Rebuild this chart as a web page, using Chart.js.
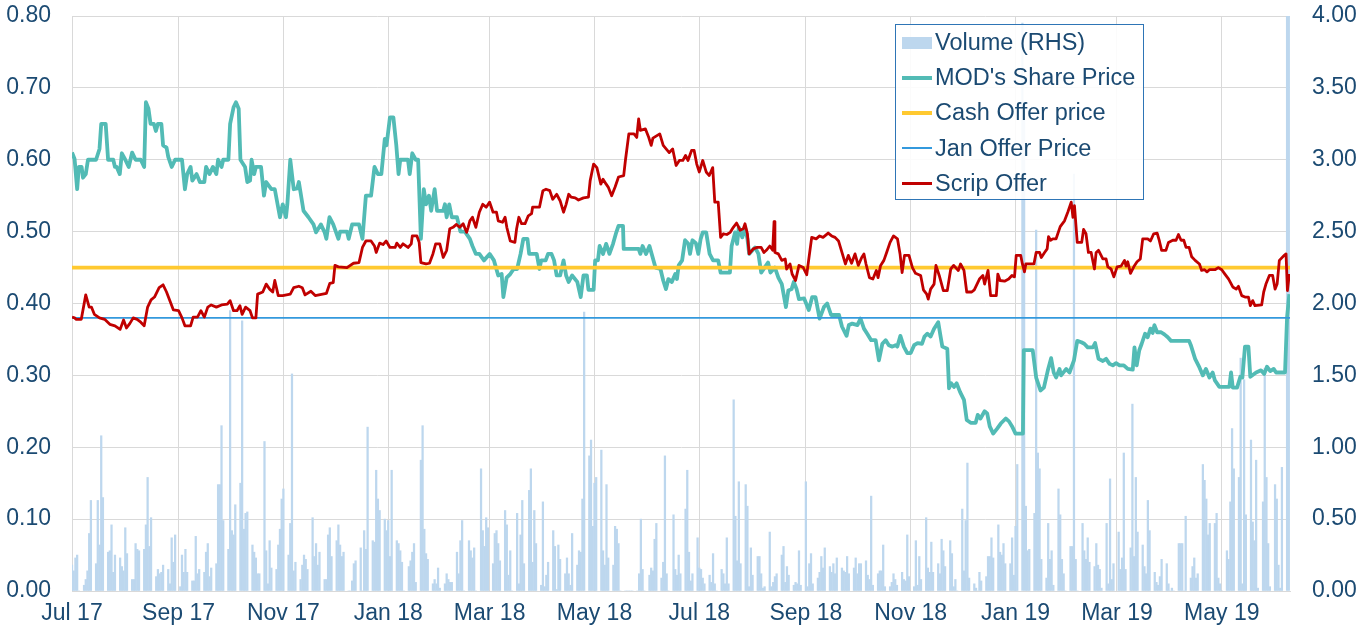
<!DOCTYPE html>
<html>
<head>
<meta charset="utf-8">
<script src="https://cdn.jsdelivr.net/npm/chart.js@4.4.1/dist/chart.umd.min.js"></script>
<style>
    html, body { margin: 0; padding: 0; background: #fff; }
    #wrap { position: relative; width: 1367px; height: 638px; }
    #legend {
        position: absolute; left: 895px; top: 24px; width: 249px; height: 176px;
        box-sizing: border-box; border: 1px solid #2e75b6; background: rgba(255,255,255,0.88);
        font-family: 'Liberation Sans', Arial, sans-serif; font-size: 23.5px; color: #1b4a72;
    }
    .legend-row { height: 35.2px; display: flex; align-items: center; }
    .legend-swatch { width: 30px; margin-left: 6px; margin-right: 3px; }
</style>
</head>
<body>
<div id="wrap">
    <canvas id="chart" width="1367" height="638"></canvas>
    <div id="legend"></div>
</div>
<script>
// x values are days counted from the left edge of the axis (start of Jul 17)
const tickDays = [0, 62, 123, 184, 243, 304, 365, 427, 488, 549, 608, 669];
const tickLabels = ['Jul 17', 'Sep 17', 'Nov 17', 'Jan 18', 'Mar 18', 'May 18', 'Jul 18', 'Sep 18', 'Nov 18', 'Jan 19', 'Mar 19', 'May 19'];
const lastDay = 708.7;

const cashOffer = 0.45;
const janOffer = 0.38;

// MOD's share price [day, price]
const sharePrice = [[0,.61],[1.5,.601],[3,.559],[4,.59],[5.6,.59],[6.4,.575],[8,.58],[9.3,.6],[14,.6],[16,.615],[17,.65],[19.6,.65],[21,.6],[24,.6],[25,.59],[26,.59],[27.8,.58],[29,.609],[31,.6],[33,.59],[35,.61],[37,.6],[40,.6],[42,.59],[43,.68],[44.5,.671],[45.7,.65],[47.6,.65],[48.8,.64],[50,.65],[52,.65],[53,.62],[55,.617],[56,.604],[58,.59],[60,.6],[64,.6],[65.7,.559],[67,.58],[69,.59],[70,.571],[72.5,.58],[74.4,.569],[77,.569],[78,.59],[80,.58],[82,.59],[84,.58],[85,.6],[87,.59],[88,.6],[91,.6],[92,.65],[94,.673],[95.4,.68],[97,.671],[98,.6],[100.7,.59],[102,.569],[103.6,.571],[104.5,.6],[106,.58],[107,.59],[110,.59],[111.7,.55],[113,.569],[116,.559],[118,.559],[121,.52],[122.6,.538],[124.5,.52],[125.3,.538],[127,.6],[129,.559],[131,.56],[132,.569],[134.7,.529],[137.6,.52],[140.5,.51],[142,.499],[144.8,.51],[147,.499],[148,.49],[149.8,.52],[152,.51],[155,.49],[156,.5],[160,.5],[161,.49],[163,.51],[167,.51],[169,.49],[171,.55],[174,.55],[176,.59],[178,.58],[180,.58],[182,.629],[183,.62],[185,.659],[187,.659],[188.7,.62],[190,.58],[191,.6],[195.5,.6],[196.5,.58],[198,.609],[200,.6],[201.4,.6],[203,.49],[204.7,.559],[206,.538],[207.7,.55],[209,.529],[211,.559],[212.4,.529],[216,.529],[217,.538],[218,.52],[219.5,.538],[221,.52],[224,.52],[226,.5],[228.6,.5],[231.5,.49],[233,.48],[235,.469],[237,.469],[239.7,.46],[243,.469],[245.5,.46],[248,.439],[250,.441],[251,.409],[252.9,.436],[255,.441],[257,.448],[259,.448],[261,.469],[262.6,.49],[265,.49],[266,.469],[270.4,.469],[272,.448],[273,.46],[275.6,.46],[277,.469],[279,.469],[280.5,.46],[282,.439],[284,.439],[286,.46],[287.5,.439],[289,.43],[291,.439],[294,.43],[296,.409],[297.6,.439],[299.6,.439],[300.5,.419],[303.5,.419],[304.4,.46],[306,.46],[307,.48],[309,.469],[310.8,.483],[312.7,.469],[314.8,.483],[316.7,.499],[318,.508],[320.6,.508],[321,.476],[329.7,.476],[330.7,.469],[332,.48],[334,.469],[336,.48],[337.3,.469],[339.5,.45],[342.4,.448],[344,.432],[345.6,.42],[347,.434],[349,.43],[351,.441],[352,.434],[353,.453],[355,.46],[356.7,.488],[358.6,.483],[359.6,.469],[361,.488],[363,.484],[364.4,.469],[365.8,.49],[367,.499],[369,.499],[371,.469],[373,.46],[376,.46],[377.4,.443],[382.8,.443],[383.8,.48],[385.8,.499],[387,.483],[388,.506],[390,.492],[391.6,.506],[393,.49],[394,.469],[397.4,.478],[399.4,.469],[401,.443],[403,.45],[405,.457],[406.4,.443],[409,.45],[411,.436],[413,.427],[415.4,.395],[416.8,.418],[418.7,.42],[420,.43],[421.6,.42],[423,.406],[426,.407],[428.7,.391],[430.7,.409],[432.6,.409],[435,.379],[437.5,.395],[439.4,.4],[441.7,.384],[446.3,.384],[448,.368],[450.7,.355],[452,.37],[454,.372],[457,.37],[458.8,.379],[460.8,.365],[462.7,.358],[465,.349],[467.6,.349],[469.5,.321],[471.5,.344],[473.4,.349],[475.3,.342],[477.3,.34],[479.2,.342],[480.2,.34],[482,.355],[484,.34],[486,.331],[488,.331],[490,.342],[492,.345],[494.6,.344],[496,.354],[497.7,.358],[499.6,.354],[501.6,.365],[504,.374],[505.4,.354],[506.4,.34],[509.3,.337],[510.3,.282],[511.6,.289],[513.2,.284],[514.7,.289],[516.7,.277],[519,.266],[520.6,.238],[522.9,.234],[525.8,.234],[527,.245],[528.6,.24],[531,.25],[532.5,.247],[534,.229],[536,.219],[538.3,.226],[540.4,.233],[543.3,.24],[545.2,.236],[547,.229],[549,.219],[553.3,.219],[553.8,.335],[559,.335],[561,.297],[563.5,.279],[565.5,.283],[567.8,.307],[569.7,.324],[571.2,.304],[572.6,.297],[574.6,.309],[575.5,.3],[578.5,.309],[580.4,.304],[583,.321],[584.9,.348],[587.3,.346],[589,.344],[591,.339],[594,.339],[595.3,.345],[597.3,.323],[599.8,.32],[601.7,.323],[603.7,.316],[605.6,.314],[607.5,.317],[609.5,.314],[612,.314],[614.3,.309],[617.2,.308],[618.2,.339],[619.5,.314],[621,.335],[622.4,.344],[624.4,.358],[625.9,.353],[627.5,.365],[628.8,.359],[629.8,.37],[631.4,.36],[633.7,.36],[635.6,.357],[637.6,.353],[639.5,.348],[650,.348],[651,.342],[653.5,.323],[656,.311],[658,.3],[659.8,.309],[661.8,.297],[663.7,.304],[665,.293],[667.6,.284],[673.4,.284],[674.4,.304],[675.4,.283],[677.9,.283],[679.8,.298],[681,.297],[682.5,.34],[684.5,.34],[685.6,.298],[689,.304],[691.8,.307],[693.7,.302],[695.3,.312],[697.2,.306],[699.2,.309],[700.6,.304],[705.8,.304],[707,.381],[708.3,.413]];

// Scrip offer value [day, value]
const scripOffer = [[0,.381],[1.5,.38],[2.5,.378],[5.4,.378],[8,.412],[10,.395],[11.3,.395],[13,.385],[16,.38],[19,.378],[22,.371],[25,.369],[28,.364],[30,.377],[31.7,.366],[33.6,.372],[35.6,.38],[37.9,.378],[40,.374],[42,.369],[44,.395],[46,.405],[48,.409],[50.7,.422],[53,.426],[55,.416],[59,.391],[62,.39],[64,.38],[65.7,.369],[69,.369],[70.5,.381],[73,.381],[75,.39],[77,.381],[79,.395],[81,.398],[84,.395],[87,.398],[90.4,.399],[92,.404],[94,.39],[96,.39],[97.7,.397],[99,.385],[101,.395],[103.6,.39],[105,.38],[107,.38],[108,.413],[111,.416],[113,.427],[115,.42],[116.8,.416],[118,.432],[120,.411],[122.6,.411],[127,.413],[129,.422],[132,.424],[134,.422],[135.6,.412],[139,.417],[141.5,.411],[148,.414],[150,.428],[152,.429],[153,.453],[155,.451],[160,.45],[163.8,.456],[167,.457],[169,.478],[171,.487],[174,.487],[176,.48],[177,.471],[179,.484],[181,.482],[182.8,.487],[185,.478],[188,.478],[189,.484],[191,.478],[192.6,.483],[195.5,.478],[197.4,.483],[198,.494],[200.7,.494],[202,.485],[203,.457],[206,.455],[208,.456],[210,.469],[211.6,.483],[214,.483],[216,.464],[218,.474],[219.8,.504],[221.7,.506],[223.7,.51],[225.6,.506],[227.6,.511],[229.6,.499],[230.5,.506],[231.5,.515],[233,.52],[235,.506],[237,.527],[239,.538],[241,.534],[243,.541],[245,.527],[247,.527],[248,.515],[250.5,.513],[252,.52],[253,.506],[255,.487],[257.7,.485],[258.7,.504],[260,.52],[261.6,.511],[263.6,.511],[265.5,.522],[267.4,.525],[268,.534],[272,.534],[274,.557],[275.8,.559],[278,.557],[279.7,.545],[282,.552],[284,.543],[286,.527],[287.5,.538],[289,.552],[290.4,.548],[292.8,.547],[294.7,.544],[297.6,.547],[300.5,.548],[301.5,.571],[303.5,.594],[305.4,.589],[307.7,.566],[309,.573],[310.8,.566],[312,.562],[314,.55],[316,.562],[318,.576],[321,.578],[322,.599],[324,.636],[327,.636],[328.6,.631],[329.7,.657],[330.7,.641],[333.6,.643],[335.6,.631],[337,.62],[338,.63],[342,.636],[344,.62],[347.5,.61],[349.5,.615],[351.5,.592],[353.4,.599],[355.4,.599],[357,.606],[358.4,.599],[360.5,.613],[362,.613],[363.5,.594],[365,.583],[367,.599],[369,.583],[370.8,.578],[372.8,.589],[374,.541],[376,.541],[377.4,.492],[379,.497],[381,.496],[383,.499],[384.8,.506],[386.7,.512],[388.7,.502],[390.6,.504],[391.6,.511],[393,.497],[394,.469],[396.4,.476],[398.7,.478],[401,.478],[402.6,.471],[404,.474],[406,.48],[407.7,.474],[408.5,.514],[409,.471],[411,.469],[413,.46],[415,.462],[415.8,.448],[417.8,.455],[419,.441],[421,.432],[423,.453],[425.5,.45],[427.5,.44],[429,.467],[430.4,.492],[433,.49],[435,.494],[437,.492],[440,.498],[442,.494],[444,.492],[446,.487],[448,.471],[450,.455],[451.7,.467],[453.6,.456],[455.6,.469],[457.5,.453],[459.5,.464],[460.8,.469],[462,.455],[464,.436],[466,.434],[468,.446],[469,.436],[470.5,.453],[472.4,.46],[474,.471],[476,.485],[478,.494],[480.3,.49],[481.8,.469],[483,.443],[484.4,.467],[487,.467],[489,.45],[490.8,.442],[493.8,.439],[495.4,.419],[497.3,.413],[498.2,.406],[499.6,.42],[501.6,.427],[502.7,.453],[504.6,.439],[507,.418],[509.3,.418],[511.3,.448],[513,.453],[515.7,.446],[517,.455],[519,.446],[520.6,.416],[523.5,.416],[525,.419],[528,.434],[530,.439],[531,.427],[533,.446],[534.5,.411],[537.8,.411],[538.7,.441],[540,.432],[542.6,.431],[545,.434],[546.9,.439],[548.4,.437],[549.4,.467],[552,.467],[553,.455],[554.2,.444],[555,.455],[559.7,.455],[561,.471],[563,.471],[564,.464],[565.9,.471],[567.4,.476],[568.2,.493],[569.4,.488],[570.7,.49],[572.6,.49],[575,.507],[577.5,.515],[579.4,.527],[581.4,.541],[582.4,.52],[583.3,.536],[584.9,.485],[587.5,.485],[588.6,.503],[590,.497],[591.4,.471],[593,.471],[594.9,.448],[595.9,.471],[597.3,.474],[599.8,.462],[601.7,.462],[602.7,.451],[604.6,.448],[606.2,.437],[608.1,.451],[610.4,.452],[612.4,.46],[613.3,.452],[614.3,.458],[615.9,.442],[617.8,.451],[619.7,.458],[621.6,.462],[623,.49],[625.9,.49],[627.5,.487],[629.4,.497],[631.4,.498],[632.7,.487],[634,.474],[636.5,.474],[638,.485],[640.5,.488],[642.4,.488],[643.8,.496],[645.3,.488],[646.9,.488],[648.2,.478],[650,.478],[651.5,.465],[653.5,.46],[656,.455],[657.3,.446],[659,.447],[660.4,.444],[661.8,.447],[665,.447],[667,.45],[669,.447],[670.5,.442],[673,.434],[675.4,.423],[677.4,.42],[678.7,.424],[680.6,.411],[682.5,.409],[684.5,.409],[685.6,.397],[687,.404],[688.3,.397],[692.2,.398],[693.4,.416],[694.7,.427],[696.7,.439],[698.6,.439],[700,.42],[701.2,.427],[702.5,.46],[705.4,.467],[706.4,.469],[707.2,.418],[708.3,.441]];

// daily volume (RHS), one row per week, Mon..Fri
const volumeWeeks = [
    [.18,.14,.23,.25,0],[.04,.08,.14,.40,.63],[.19,.63,.32,1.08,.65],[.27,.28,.46,.13,.25],[.23,.17,.14,.44,.26],
    [.08,.08,.33,.29,.28],[.29,.46,.79,.31,.51],[.10,.15,.12,.13,.18],[.15,.05,.37,.20,.39],[.03,.25,.13,.29,.13],
    [.07,.07,.38,.12,.15],[.13,.27,.33,.10,.16],[.19,.74,.74,1.15,.49],[.29,1.95,.42,.39,.60],[.75,1.88,.43,.54,.55],
    [.32,.27,.23,.12,.12],[1.04,.28,.05,.35,.16],[.15,.32,.43,.64,.71],[.25,.47,1.51,.14,.20],[.08,.18,.25,.22,.15],
    [.51,.24,.33,.18,.27],[.08,.08,.39,.44,.24],[.35,.46,.32,.24,.27],[0,0,.07,.19,.21],[.30,0,.42,.29,1.14],
    [.35,.34,.84,.64,.56],[.50,.42,.49,.24,.84],[.35,.33,.28,.20,0],[.17,.21,.27,.33,.06],[.91,1.15,.43,.26,.22],
    [.05,.08,.05,.16,.02],[.05,.12,.08,.06,.06],[.27,.12,.35,.49,0],[.35,.28,.23,.30,0],[.85,.42,.31,.51,.44],
    [.19,.40,.42,.33,.21],[.56,.46,.11,.28,0],[.54,.05,.39,.63,.19],[.70,.85,.20,.56,.33],[.04,.62,.03,.11,.20],
    [.42,.31,.01,.32,.22],[.12,.23,.12,.04,.40],[.18,.28,.27,.64,1.94],[.94,1.05,.45,.75,.79],[.98,.28,.18,.74,.23],
    [.18,.45,.43,.33,0],[0,0,0,0,0],[0,.12,.50,.15,0],[.11,.16,.14,.36,.47],[.09,.20,.94,.12,0],
    [.53,.15,.11,.25,.12],[.57,.84,.27,.07,.12],[.37,.16,.15,.09,.05],[.11,.06,.26,.05,0],[.15,.12,.05,.37,.05],
    [1.33,.52,.21,.76,.19],[.74,.59,.03,.30,.11],[.24,.24,.12,.02,.03],[.41,.03,.06,.10,.12],[.25,.31,.06,.17,.11],
    [.04,.06,.05,.28,.04],[.76,.03,.19,.26,.05],[.09,.13,.24,.16,.30],[.17,.13,.19,.12,.23],[.16,.14,.13,.24,.12],
    [.16,.23,.12,.19,.19],[.21,.11,.08,.66,.04],[.12,.14,.14,.32,.03],[.03,.06,.12,.08,.04],[.13,.08,.07,.39,.10],
    [.03,.35,.04,.24,.08],[.51,.16,.13,.34,.13],[.19,.12,.36,.28,.17],[.35,.26,.03,.08,0],[.57,.14,.49,.89,.09],
    [.05,.02,0,.13,.07],[.10,.24,.24,.37,.23],[.46,.27,.25,.33,.19],[.19,.37,.11,.45,.88],[3.95,3.4,.59,.28,.29],
    [.54,2.51,.96,.85,.22],[.09,.47,.22,.28,.04],[.71,.53,.22,.12,0],[.31,.31,2.9,.22,0],[.47,.28,.22,.37,.20],
    [.17,.33,.18,.15,.02],[.47,.05,.78,.08,.19],[.41,.15,.23,.96,.15],[.30,1.30,.24,.79,.41],[.32,.17,.12,.63,.42],
    [.13,.06,.04,.10,.22],[.19,.05,0,.02,0],[.33,.33,.33,0,.52],[.09,.17,.23,.09,.12],[.88,.77,.64,.39,.47],
    [.47,.54,.09,.05,0],[.28,.22,.62,1.13,.85],[.79,1.62,.05,1.47,.53],[1.05,.48,.35,.91,.02],[.62,1.55,.79,.33,.03],
    [.74,.64,.18,.02,.86],[4.0,4.0]
];

const navy = '#1b4a72';
const gridColor = '#d9d9d9';
const fontFamily = "'Liberation Sans', Arial, sans-serif";

const toPoints = arr => arr.map(p => ({ x: p[0], y: p[1] }));
const volumePoints = [];
volumeWeeks.forEach((week, w) => {
    week.forEach((v, d) => volumePoints.push({ x: w * 7 + d, y: v }));
});

const datasets = [
    { type: 'bar', label: 'Volume (RHS)', data: volumePoints, yAxisID: 'y2', backgroundColor: '#bdd7ee',
      barThickness: 1.6, order: 5 },
    { type: 'line', label: "MOD's Share Price", data: toPoints(sharePrice), yAxisID: 'y', borderColor: '#52bbb5',
      borderWidth: 3.8, pointRadius: 0, tension: 0, borderJoinStyle: 'round', order: 4 },
    { type: 'line', label: 'Cash Offer price', data: [{ x: 0, y: cashOffer }, { x: lastDay, y: cashOffer }], yAxisID: 'y',
      borderColor: '#ffc930', borderWidth: 3.8, pointRadius: 0, order: 3 },
    { type: 'line', label: 'Jan Offer Price', data: [{ x: 0, y: janOffer }, { x: lastDay, y: janOffer }], yAxisID: 'y',
      borderColor: '#3399dd', borderWidth: 1.6, pointRadius: 0, order: 2 },
    { type: 'line', label: 'Scrip Offer', data: toPoints(scripOffer), yAxisID: 'y', borderColor: '#c00000',
      borderWidth: 2.8, pointRadius: 0, tension: 0, borderJoinStyle: 'round', order: 1 }
];

const tickFont = { family: fontFamily, size: 23 };

// fixed axis sizes so the plot area sits where the reference has it
const fixVertical = width => s => {
    s.width = width;
    s.paddingTop = 0;
    s.paddingBottom = 0;
};

new Chart(document.getElementById('chart').getContext('2d'), {
    data: { datasets: datasets },
    options: {
        responsive: false,
        animation: false,
        devicePixelRatio: 1,
        layout: { padding: { top: 16, left: 0, right: 0, bottom: 0 } },
        plugins: { legend: { display: false }, tooltip: { enabled: false } },
        scales: {
            x: {
                type: 'linear', min: 0, max: lastDay, offset: false,
                grid: { color: gridColor, offset: false, drawTicks: false },
                border: { color: gridColor },
                afterBuildTicks: s => { s.ticks = tickDays.map(v => ({ value: v })); },
                afterFit: s => { s.height = 47; s.paddingLeft = 0; s.paddingRight = 0; },
                ticks: {
                    autoSkip: false, maxRotation: 0, padding: 9, color: navy, font: tickFont,
                    callback: v => tickLabels[tickDays.indexOf(v)]
                }
            },
            y: {
                position: 'left', min: 0, max: 0.8,
                grid: { color: gridColor, drawTicks: false },
                border: { color: gridColor },
                afterFit: fixVertical(72),
                ticks: { stepSize: 0.1, padding: 21, color: navy, font: tickFont, callback: v => v.toFixed(2) }
            },
            y2: {
                position: 'right', min: 0, max: 4,
                grid: { drawOnChartArea: false, drawTicks: false },
                border: { display: false },
                afterFit: fixVertical(77),
                ticks: { stepSize: 0.5, padding: 22, color: navy, font: tickFont, callback: v => v.toFixed(2) }
            }
        }
    }
});

// legend box inside the plot, built from the datasets
const legendEl = document.getElementById('legend');
datasets.forEach(ds => {
    const row = document.createElement('div');
    row.className = 'legend-row';
    const sw = document.createElement('div');
    sw.className = 'legend-swatch';
    if (ds.type === 'bar') {
        sw.style.height = '12px';
        sw.style.background = ds.backgroundColor;
    } else {
        sw.style.height = Math.max(2, Math.round(ds.borderWidth)) + 'px';
        sw.style.background = ds.borderColor;
    }
    const txt = document.createElement('span');
    txt.textContent = ds.label;
    row.appendChild(sw);
    row.appendChild(txt);
    legendEl.appendChild(row);
});
</script>
</body>
</html>
